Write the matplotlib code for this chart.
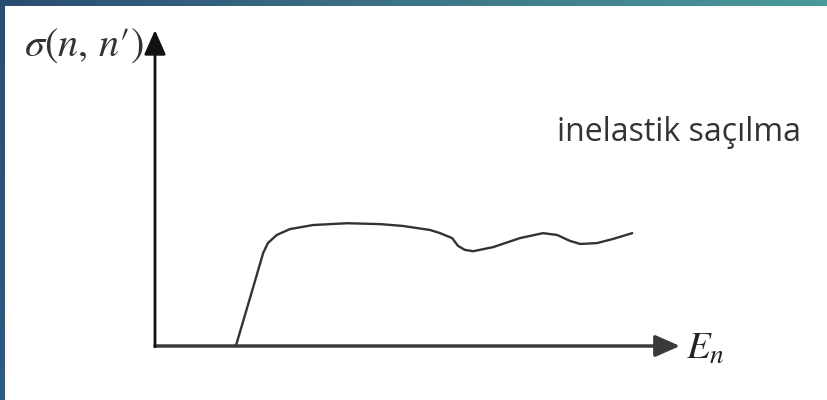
import matplotlib
matplotlib.use("Agg")
import matplotlib.pyplot as plt
import numpy as np
from matplotlib.colors import LinearSegmentedColormap

plt.rcParams['mathtext.fontset'] = 'stix'

# inelastic scattering cross section sketch (energy vs sigma)
energy = [1.54, 1.91, 2.06, 2.15, 2.32, 2.57, 3.01, 3.66, 4.29, 4.72, 5.24,
          5.43, 5.66, 5.77, 5.90, 6.06, 6.44, 6.95, 7.39, 7.66, 7.90, 8.10,
          8.42, 8.72, 9.09]
sigma = [0.00, 1.46, 2.06, 2.28, 2.46, 2.59, 2.68, 2.72, 2.70, 2.66, 2.57,
         2.50, 2.39, 2.22, 2.13, 2.10, 2.19, 2.39, 2.50, 2.46, 2.33, 2.26,
         2.28, 2.37, 2.50]

x_axis_end = 10.0
y_axis_end = 7.0
y_label = r"$\sigma(n,\,n\prime)$"
x_label = r"$E_n$"
curve_label = "inelastik saçılma"

W, H = 827, 400
fig = plt.figure(figsize=(W / 100, H / 100), dpi=100)
fig.patch.set_facecolor('white')

# main drawing area, mapped so the origin sits at pixel (155, 346)
ax = fig.add_axes([0, 0, 1, 1])
sx, sy = 52.5, 45.14
ax.set_xlim(-155 / sx, (W - 155) / sx)
ax.set_ylim(-(H - 346) / sy, 346 / sy)
ax.axis('off')

# axes with arrow heads
ax.annotate('', xy=(x_axis_end, 0), xytext=(0, 0),
            arrowprops=dict(arrowstyle='-|>,head_length=0.75,head_width=0.33',
                            mutation_scale=20, lw=2.5, color='#3a3a3a',
                            shrinkA=0, shrinkB=0))
ax.annotate('', xy=(0, y_axis_end), xytext=(0, -0.02),
            arrowprops=dict(arrowstyle='-|>,head_length=0.75,head_width=0.33',
                            mutation_scale=20, lw=2, color='#111111',
                            shrinkA=0, shrinkB=0))

ax.plot(energy, sigma, color='#333333', lw=1.7, solid_joinstyle='round',
        solid_capstyle='round')

ax.text(-2.50, 6.67, y_label, fontsize=29, color='#333333', va='center', ha='left')
ax.text(10.11, -0.04, x_label, fontsize=28, color='#222222', va='center', ha='left')
ax.text(7.66, 4.72, curve_label, fontsize=23, family='Open Sans',
        color='#333333', va='center', ha='left')

# slide frame: gradient strip on top, dark strip on the left
top = fig.add_axes([0, 1 - 6 / H, 1, 6 / H])
grad = np.linspace(0, 1, 256).reshape(1, -1)
cmap = LinearSegmentedColormap.from_list('frame', ['#2a4d72', '#3d7488', '#4a9a9a'])
top.imshow(grad, aspect='auto', cmap=cmap, extent=[0, 1, 0, 1])
top.axis('off')

left = fig.add_axes([0, 0, 5 / W, 1])
left.imshow(np.linspace(0, 1, 64).reshape(-1, 1), aspect='auto',
            cmap=LinearSegmentedColormap.from_list('side', ['#2a4e74', '#2b5c84']))
left.axis('off')

fig.savefig('out.png', dpi=100, facecolor='white')
